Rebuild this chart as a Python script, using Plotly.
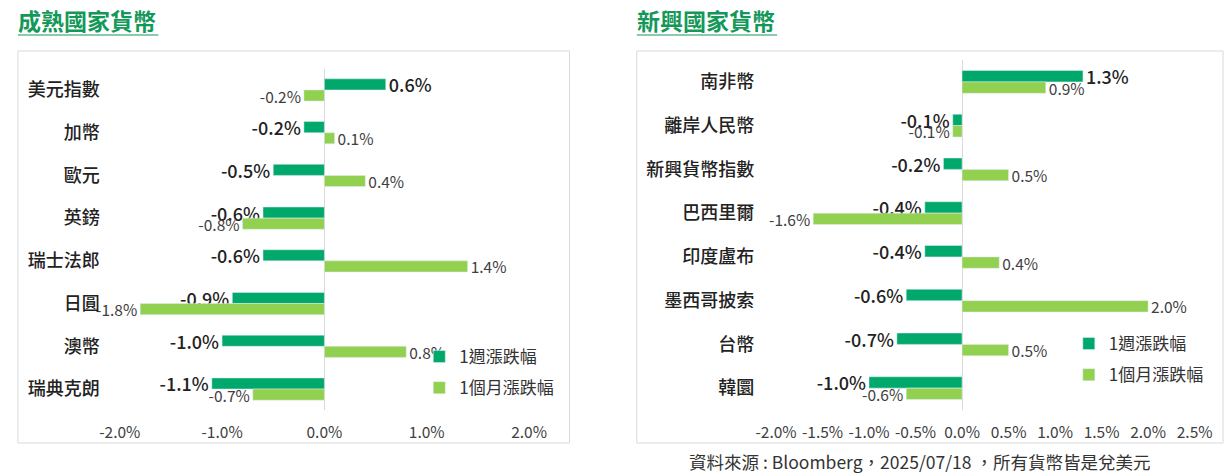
import plotly.graph_objects as go

# 成熟國家貨幣
dev_names = ['美元指數', '加幣', '歐元', '英鎊', '瑞士法郎', '日圓', '澳幣', '瑞典克朗']
dev_week = [0.6, -0.2, -0.5, -0.6, -0.6, -0.9, -1.0, -1.1]
dev_month = [-0.2, 0.1, 0.4, -0.8, 1.4, -1.8, 0.8, -0.7]
dev_ticks = [-2.0, -1.0, 0.0, 1.0, 2.0]

# 新興國家貨幣
em_names = ['南非幣', '離岸人民幣', '新興貨幣指數', '巴西里爾', '印度盧布', '墨西哥披索', '台幣', '韓圜']
em_week = [1.3, -0.1, -0.2, -0.4, -0.4, -0.6, -0.7, -1.0]
em_month = [0.9, -0.1, 0.5, -1.6, 0.4, 2.0, 0.5, -0.6]
em_ticks = [-2.0, -1.5, -1.0, -0.5, 0.0, 0.5, 1.0, 1.5, 2.0, 2.5]

series_names = ['1週漲跌幅', '1個月漲跌幅']

W, H = 1230, 475
DARK = '#00A86B'
LIGHT = '#92D050'
TITLE_GREEN = '#14985A'
FONT = 'Noto Sans CJK TC'


def px_x(p):
    return p / W


def px_y(p):
    return 1 - p / H


def pct(v):
    return f'{v:.1f}%'


fig = go.Figure()


def add_panel(names, week, month, xaxis, yaxis, legend):
    fig.add_trace(go.Bar(
        y=names, x=week, orientation='h', name=series_names[0],
        marker_color=DARK, xaxis=xaxis, yaxis=yaxis, legend=legend,
        legendgroup='w', text=[pct(v) for v in week], texttemplate='%{text}',
        textposition='outside', constraintext='none', cliponaxis=False,
        textfont=dict(size=18, color='#222222', family=FONT, weight=500),
        hoverinfo='skip',
    ))
    fig.add_trace(go.Bar(
        y=names, x=month, orientation='h', name=series_names[1],
        marker_color=LIGHT, xaxis=xaxis, yaxis=yaxis, legend=legend,
        legendgroup='m', text=[pct(v) for v in month], texttemplate='%{text}',
        textposition='outside', constraintext='none', cliponaxis=False,
        textfont=dict(size=15.5, color='#404040', family=FONT),
        hoverinfo='skip',
    ))


add_panel(dev_names, dev_week, dev_month, 'x', 'y', 'legend')
add_panel(em_names, em_week, em_month, 'x2', 'y2', 'legend2')

xcommon = dict(showgrid=False, zeroline=True, zerolinecolor='#D9D9D9',
               zerolinewidth=1,
               tickfont=dict(size=15.5, color='#404040', family=FONT),
               ticks='', showline=False, ticklabelstandoff=11)
ycommon = dict(showgrid=False, autorange='reversed', ticks='', showline=False,
               tickfont=dict(size=18, color='#222222', family=FONT, weight=500),
               ticklabelstandoff=8)

fig.update_layout(
    width=W, height=H,
    margin=dict(l=0, r=0, t=0, b=0),
    paper_bgcolor='white', plot_bgcolor='white',
    barmode='group', bargap=0.48, bargroupgap=0,
    font=dict(family=FONT),
    xaxis=dict(domain=[px_x(100), px_x(540)],
               range=[(100 - 318) / 103.5, (540 - 318) / 103.5],
               tickmode='array', tickvals=dev_ticks,
               ticktext=[pct(v) for v in dev_ticks], anchor='y', **xcommon),
    yaxis=dict(domain=[px_y(410.4), px_y(68.6)], anchor='x', **ycommon),
    xaxis2=dict(domain=[px_x(762), px_x(1212)],
                range=[(762 - 963) / 94.1, (1212 - 963) / 94.1],
                tickmode='array', tickvals=em_ticks,
                ticktext=[pct(v) for v in em_ticks], anchor='y2', **xcommon),
    yaxis2=dict(domain=[px_y(410), px_y(60)], anchor='x2', **ycommon),
    legend=dict(x=px_x(414), y=px_y(339), xanchor='left', yanchor='top',
                font=dict(size=17, color='#333333', family=FONT),
                tracegroupgap=6, bgcolor='rgba(0,0,0,0)'),
    legend2=dict(x=px_x(1071), y=px_y(326), xanchor='left', yanchor='top',
                 font=dict(size=17, color='#333333', family=FONT),
                 tracegroupgap=6, bgcolor='rgba(0,0,0,0)'),
    showlegend=True,
)

# panel frames
for x0, x1 in [(8, 566), (634, 1227)]:
    fig.add_shape(type='rect', xref='paper', yref='paper',
                  x0=px_x(x0), x1=px_x(x1), y0=px_y(443), y1=px_y(51),
                  line=dict(color='#D9D9D9', width=1), layer='below')

# panel titles with underline
for title, x0, x1 in [('成熟國家貨幣', 8, 150), ('新興國家貨幣', 634, 776)]:
    fig.add_annotation(text=title, xref='paper', yref='paper',
                       x=px_x(x0 - 2), y=px_y(20), xanchor='left', yanchor='middle',
                       showarrow=False,
                       font=dict(size=23, color=TITLE_GREEN, family=FONT, weight='bold'))
    fig.add_shape(type='line', xref='paper', yref='paper',
                  x0=px_x(x0), x1=px_x(x1), y0=px_y(35), y1=px_y(35),
                  line=dict(color=TITLE_GREEN, width=1.2))

fig.add_annotation(text='資料來源 : Bloomberg，2025/07/18 ，所有貨幣皆是兌美元',
                   xref='paper', yref='paper', x=px_x(920), y=px_y(461.5),
                   xanchor='center', yanchor='middle', showarrow=False,
                   font=dict(size=17.5, color='#333333', family=FONT))

fig.write_html("out.html", config={'displayModeBar': False})

# drop the default body margin so the 1230x475 figure fills the window exactly
with open("out.html", encoding="utf-8") as f:
    page = f.read()
page = page.replace("<body>", '<body style="margin:0;padding:0;overflow:hidden">', 1)
with open("out.html", "w", encoding="utf-8") as f:
    f.write(page)
